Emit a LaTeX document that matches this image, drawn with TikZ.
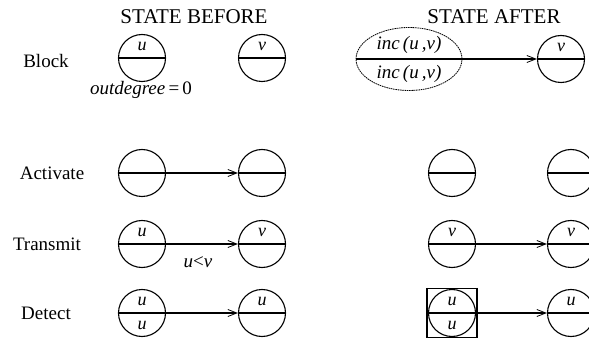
\documentclass[tikz,border=0pt]{standalone}
\usepackage{fontspec}
\setmainfont{Liberation Serif}
\usetikzlibrary{arrows.meta,shapes.geometric}
\begin{document}
\begin{tikzpicture}[x=1pt,y=-1pt,
  nodecirc/.style={circle, draw, line width=1.1pt, minimum size=47pt, inner sep=0pt,
    path picture={\draw[solid, line width=1.6pt] (path picture bounding box.west) -- (path picture bounding box.east);}},
  lab/.style={font=\fontsize{19}{22}\selectfont},
  ttl/.style={font=\fontsize{21}{24}\selectfont, anchor=base},
  mt/.style={font=\fontsize{18}{20}\selectfont\itshape, inner sep=0pt},
  mtb/.style={font=\fontsize{19}{22}\selectfont\itshape, inner sep=0pt},
  arr/.style={line width=1.2pt, -{Straight Barb[length=9pt,width=7pt,line width=0.8pt]}},
]
\useasboundingbox (0,0) rectangle (589,339);
% titles
\node[ttl] (tb) at (194,24) {STATE BEFORE};
\node[ttl] (ta) at (494,24) {STATE AFTER};
% row labels
\node[lab] (lb) at (46,61) {Block};
\node[lab] (la) at (52,173) {Activate};
\node[lab] (lt) at (47,244) {Transmit};
\node[lab] (ld) at (46,313) {Detect};
% ---- Block
\node[nodecirc] (b1) at (142,58) {};
\node[mt] (b1u) at (142,46.5) {u};
\node[nodecirc] (b2) at (262,58) {};
\node[mt] (b2v) at (262,46.5) {v};
\node[mtb] (od) at (141,90) {outdegree\,{\upshape =\,0}};
\node[ellipse, draw, line width=0.8pt, dash pattern=on 1.6pt off 0.7pt, minimum width=106pt, minimum height=63pt, inner sep=0pt,
  path picture={\draw[solid, line width=1.6pt] (path picture bounding box.west) -- (path picture bounding box.east);}] (e) at (409,59) {};
\node[mtb] (e1) at (409,44.5) {inc\,(u\,,v)};
\node[mtb] (e2) at (409,74) {inc\,(u\,,v)};
\node[nodecirc] (b3) at (561,59) {};
\node[mt] (b3v) at (561,47.5) {v};
\draw[arr] (e.east) -- (b3.west);
% ---- Activate
\node[nodecirc] (a1) at (142,173) {};
\node[nodecirc] (a2) at (262,173) {};
\draw[arr] (a1.east) -- (a2.west);
\node[nodecirc] (a3) at (452,173) {};
\node[nodecirc] (a4) at (571,173) {};
% ---- Transmit
\node[nodecirc] (t1) at (142,244) {};
\node[mt] (t1u) at (142,232.5) {u};
\node[nodecirc] (t2) at (262,244) {};
\node[mt] (t2v) at (262,232.5) {v};
\draw[arr] (t1.east) -- (t2.west);
\node[mtb] (tl) at (198,262) {u{\upshape <}v};
\node[nodecirc] (t3) at (452,244) {};
\node[mt] (t3v) at (452,232.5) {v};
\node[nodecirc] (t4) at (571,244) {};
\node[mt] (t4v) at (571,232.5) {v};
\draw[arr] (t3.east) -- (t4.west);
% ---- Detect
\node[nodecirc] (d1) at (142,313) {};
\node[mt] (d1u) at (142,301.5) {u};
\node[mt] (d1l) at (142,325) {u};
\node[nodecirc] (d2) at (262,313) {};
\node[mt] (d2u) at (262,301.5) {u};
\draw[arr] (d1.east) -- (d2.west);
\node[draw, line width=1.2pt, minimum size=49pt, inner sep=0pt] (bx) at (452,313) {};
\draw[line width=2pt] (bx.north west) -- (bx.south west);
\draw[line width=2pt] (bx.north east) -- (bx.south east);
\node[nodecirc] (d3) at (452,313) {};
\node[mt] (d3u) at (452,301.5) {u};
\node[mt] (d3l) at (452,325) {u};
\node[nodecirc] (d4) at (571,313) {};
\node[mt] (d4u) at (571,301.5) {u};
\draw[arr] (bx.east) -- (d4.west);
\end{tikzpicture}
\end{document}
